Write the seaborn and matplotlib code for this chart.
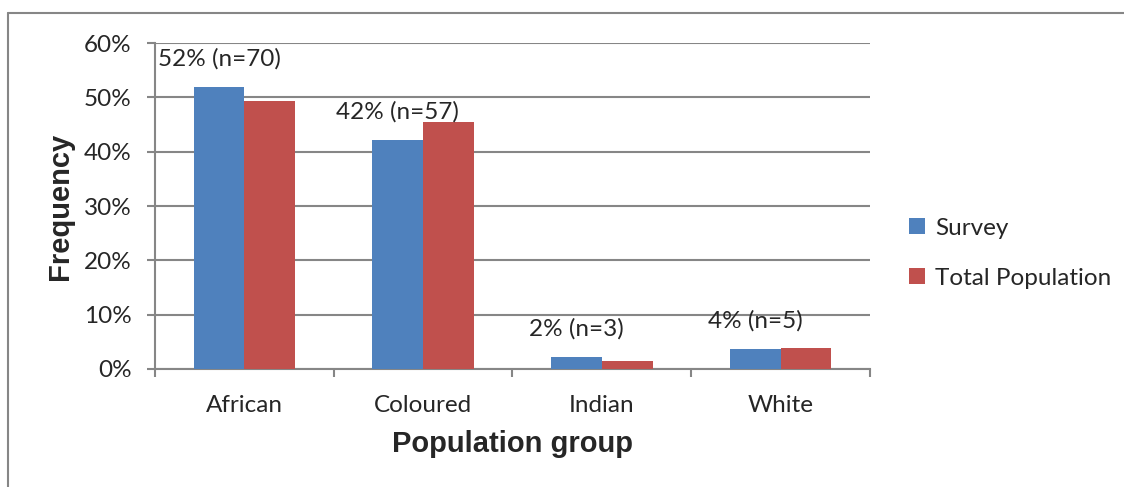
import matplotlib
matplotlib.use("Agg")
import matplotlib.pyplot as plt
from matplotlib.lines import Line2D
from matplotlib.patches import Patch
import matplotlib.ticker as mticker
import seaborn as sns
import pandas as pd

# Share of respondents per population group, survey sample vs. total population
groups = ["African", "Coloured", "Indian", "White"]
survey_pct = [51.9, 42.2, 2.2, 3.7]
survey_n = [70, 57, 3, 5]
population_pct = [49.3, 45.5, 1.4, 3.8]
series_names = ["Survey", "Total Population"]
y_ticks = [0, 10, 20, 30, 40, 50, 60]

BLUE = "#4F81BD"
RED = "#C0504D"
GRID = "#868686"
TEXT_FONT = "Lato"
LABEL_FONT = "Liberation Sans"
TEXT_SIZE = 17.5

df = pd.DataFrame({
    "group": groups * 2,
    "series": [series_names[0]] * len(groups) + [series_names[1]] * len(groups),
    "value": survey_pct + population_pct,
})

sns.set_theme(style="white")
plt.rcParams["font.family"] = [TEXT_FONT, "DejaVu Sans"]

fig = plt.figure(figsize=(11.24, 4.87), dpi=100)
ax = fig.add_axes([0.1379, 0.2423, 0.7740 - 0.1379, 0.9117 - 0.2423])

sns.barplot(data=df, x="group", y="value", hue="series", order=groups,
            hue_order=series_names, palette=[BLUE, RED], width=0.567,
            gap=0, saturation=1, linewidth=0, ax=ax, legend=False, zorder=3)

ax.set_ylim(0, 60)
ax.set_xlim(-0.5, len(groups) - 0.5)
ax.set_yticks(y_ticks)
ax.yaxis.set_major_formatter(mticker.FuncFormatter(lambda v, _: f"{v:.0f}%"))
ax.yaxis.grid(True, color=GRID, linewidth=1.5, zorder=0)
ax.set_axisbelow(True)

# category boundary ticks on the x axis
ax.set_xticks(range(len(groups)))
ax.set_xticklabels(groups)
ax.set_xticks([i - 0.5 for i in range(len(groups) + 1)], minor=True)
ax.tick_params(axis="x", which="major", length=0, pad=18.5, labelsize=TEXT_SIZE)
ax.tick_params(axis="x", which="minor", length=6, width=1.5, color=GRID,
               direction="out", bottom=True)
ax.tick_params(axis="y", which="major", length=6, width=1.5, color=GRID,
               direction="out", left=True, pad=11, labelsize=TEXT_SIZE)

for side in ["top", "right"]:
    ax.spines[side].set_visible(False)
for side in ["left", "bottom"]:
    ax.spines[side].set_color(GRID)
    ax.spines[side].set_linewidth(1.5)

ax.set_xlabel("Population group", fontsize=21, fontweight="bold",
              family=LABEL_FONT, labelpad=10)
ax.set_ylabel("Frequency", fontsize=21, fontweight="bold",
              family=LABEL_FONT, labelpad=7)

# value labels above the survey bars
survey_bars = ax.containers[0]
for bar, pct, n in zip(survey_bars, survey_pct, survey_n):
    cx = bar.get_x() + bar.get_width() / 2
    ax.annotate(f"{pct:.0f}% (n={n})", xy=(cx, pct), xytext=(0, 20),
                textcoords="offset points", ha="center", va="center",
                fontsize=TEXT_SIZE, annotation_clip=False)

handles = [Patch(facecolor=BLUE, edgecolor="none"),
           Patch(facecolor=RED, edgecolor="none")]
fig.legend(handles, series_names, loc="center left",
           bbox_to_anchor=(0.7895, 0.48), frameon=False, fontsize=TEXT_SIZE,
           handlelength=0.65, handleheight=0.65, handletextpad=0.4,
           labelspacing=1.2)

# outer frame along the top and left edge
fig.add_artist(Line2D([8 / 1124, 1.0], [1 - 13 / 487, 1 - 13 / 487],
                      transform=fig.transFigure, color=GRID, linewidth=1.5))
fig.add_artist(Line2D([8 / 1124, 8 / 1124], [0.0, 1 - 13 / 487],
                      transform=fig.transFigure, color=GRID, linewidth=1.5))

fig.savefig("out.png", dpi=100, facecolor="white")
